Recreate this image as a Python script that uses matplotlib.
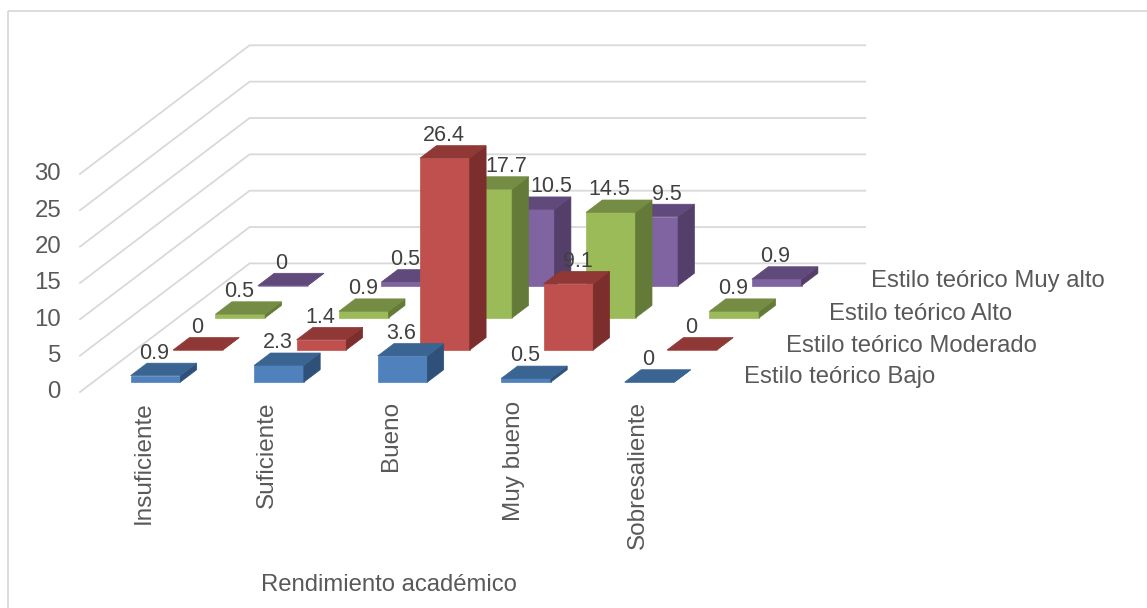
import matplotlib
matplotlib.use("Agg")
import matplotlib.pyplot as plt
from matplotlib.patches import Polygon, Rectangle

plt.rcParams['font.family'] = ['Liberation Sans', 'DejaVu Sans']

categories = ["Insuficiente", "Suficiente", "Bueno", "Muy bueno", "Sobresaliente"]
series_names = ["Estilo teórico Bajo", "Estilo teórico Moderado", "Estilo teórico Alto", "Estilo teórico Muy alto"]
bajo = [0.9, 2.3, 3.6, 0.5, 0]
moderado = [0, 1.4, 26.4, 9.1, 0]
alto = [0.5, 0.9, 17.7, 14.5, 0.9]
muy_alto = [0, 0.5, 10.5, 9.5, 0.9]
value_ticks = [0, 5, 10, 15, 20, 25, 30]
axis_title = "Rendimiento académico"

series_values = [bajo, moderado, alto, muy_alto]
# (front, top, side)
palette = [("#4F81BD", "#3A6491", "#2F5078"),
           ("#C0504D", "#8F3836", "#7B2E2C"),
           ("#9BBB59", "#748C43", "#637A38"),
           ("#8064A2", "#604A7B", "#533F6A")]
# data-label nudges in pixels for labels the original moved sideways, keyed (category, series)
label_nudge = {(3, 1): 11, (2, 2): 20, (2, 3): 23, (3, 3): 15}

W, H = 1147, 608
ORIGIN_X, ORIGIN_Y = 80.0, 392.0
CAT_W, VAL_H = 123.5, 7.27
SER_DX, SER_DY = 42.4, 32.15


def project(c, s, v):
    """Oblique projection of (category, series, value) on to the picture."""
    return (ORIGIN_X + CAT_W * c + SER_DX * s,
            ORIGIN_Y - VAL_H * v - SER_DY * s)


fig = plt.figure(figsize=(W / 100, H / 100), dpi=100)
ax = fig.add_axes([0, 0, 1, 1])
ax.set_xlim(0, W)
ax.set_ylim(H, 0)
ax.axis("off")

# chart frame: the right and bottom edges lie outside the picture
ax.add_patch(Rectangle((8, 10.5), 1200, 700, fill=False, ec="#D9D9D9", lw=1.3, zorder=0))

# gridlines: along the side wall and along the back wall
n_cat, n_ser = len(categories), len(series_values)
for v in value_ticks:
    pts = [project(0, 0, v), project(0, n_ser, v), project(n_cat - 0.015, n_ser, v)]
    ax.plot(*zip(*pts), color="#D9D9D9", lw=1.3, zorder=1, solid_joinstyle="miter")
    x, y = project(0, 0, v)
    ax.text(x - 19, y + 0.5, str(v), ha="right", va="center", fontsize=17.3, color="#595959")

BAR_C0, BAR_C1 = 0.305, 0.707
BAR_S0, BAR_S1 = 0.307, 0.693

z = 2
for s in range(n_ser - 1, -1, -1):
    front, top, side = palette[s]
    for c in range(n_cat):
        v = series_values[s][c]
        c0, c1, s0, s1 = c + BAR_C0, c + BAR_C1, s + BAR_S0, s + BAR_S1
        faces = [
            ([project(c0, s0, 0), project(c1, s0, 0), project(c1, s0, v), project(c0, s0, v)], front),
            ([project(c1, s0, 0), project(c1, s1, 0), project(c1, s1, v), project(c1, s0, v)], side),
            ([project(c0, s0, v), project(c1, s0, v), project(c1, s1, v), project(c0, s1, v)], top),
        ]
        for pts, col in faces:
            ax.add_patch(Polygon(pts, closed=True, fc=col, ec=col, lw=0.5, zorder=z))
        x, y = project(c0 + 0.2, s0, v)
        ax.text(x - 1 + label_nudge.get((c, s), 0), y - 22.5, str(v), ha="center", va="center",
                fontsize=15.5, color="#404040", zorder=50)
    z += 1

for s, name in enumerate(series_names):
    ax.text(744 + SER_DX * s, 377.5 - 32 * s, name, ha="left", va="center",
            fontsize=17.2, color="#595959", zorder=50)

for c, name in enumerate(categories):
    x, y = project(c + 0.5, 0, 0)
    ax.text(x + 2, 401, name, rotation=90, ha="center", va="top", fontsize=17.5, color="#595959")

ax.text(389, 585, axis_title, ha="center", va="center", fontsize=17.2, color="#595959")

fig.savefig("out.png", dpi=100)
